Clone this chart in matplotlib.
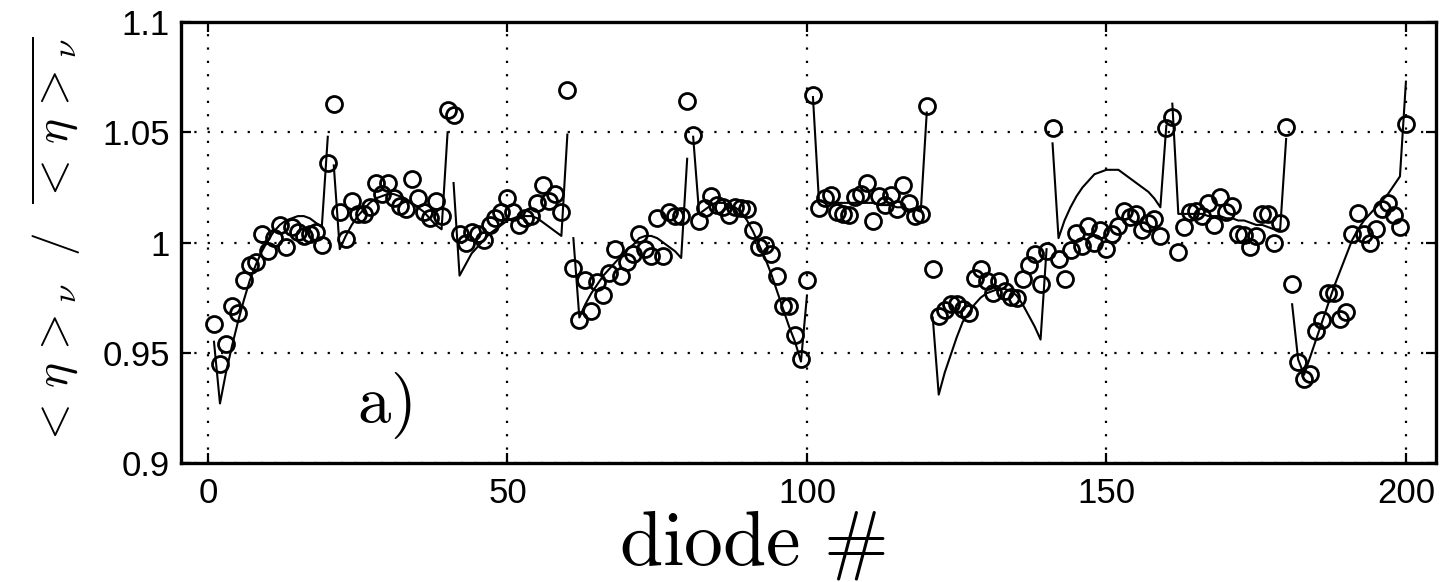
import numpy as np
import matplotlib
matplotlib.use("Agg")
import matplotlib.pyplot as plt

plt.rcParams['mathtext.fontset'] = 'cm'
plt.rcParams['font.family'] = ['Liberation Sans', 'DejaVu Sans']

# diode index
diode = np.arange(1, 201)

# measured ratio <eta>_nu / mean(<eta>_nu)  (circles), 10 groups of 20 diodes
measured = [
    0.963, 0.945, 0.954, 0.971, 0.968, 0.983, 0.990, 0.991, 1.004, 0.996,
    1.002, 1.008, 0.998, 1.007, 1.005, 1.003, 1.004, 1.005, 0.999, 1.036,
    1.063, 1.014, 1.0015, 1.019, 1.013, 1.013, 1.016, 1.027, 1.022, 1.027,
    1.020, 1.0165, 1.015, 1.029, 1.020, 1.014, 1.011, 1.019, 1.012, 1.060,
    1.058, 1.004, 1.000, 1.005, 1.004, 1.001, 1.008, 1.011, 1.014, 1.020,
    1.014, 1.008, 1.011, 1.012, 1.018, 1.026, 1.019, 1.022, 1.014, 1.069,
    0.9885, 0.965, 0.983, 0.969, 0.982, 0.976, 0.986, 0.997, 0.985, 0.991,
    0.995, 1.004, 0.997, 0.994, 1.011, 0.994, 1.014, 1.012, 1.012, 1.064,
    1.049, 1.010, 1.0155, 1.021, 1.017, 1.016, 1.0125, 1.016, 1.0155, 1.015,
    1.0057, 0.998, 0.999, 0.995, 0.985, 0.971, 0.971, 0.958, 0.947, 0.983,
    1.067, 1.0155, 1.020, 1.0215, 1.014, 1.013, 1.0125, 1.0205, 1.022, 1.027,
    1.010, 1.021, 1.017, 1.0215, 1.015, 1.026, 1.018, 1.012, 1.013, 1.062,
    0.988, 0.9665, 0.9695, 0.972, 0.972, 0.970, 0.968, 0.984, 0.988, 0.9825,
    0.977, 0.9825, 0.978, 0.9755, 0.975, 0.9835, 0.990, 0.995, 0.981, 0.996,
    1.052, 0.9925, 0.9835, 0.9965, 1.0045, 0.9985, 1.0075, 1.000, 1.0055, 0.997,
    1.004, 1.0075, 1.0145, 1.0115, 1.013, 1.0055, 1.009, 1.0105, 1.003, 1.052,
    1.057, 0.9955, 1.007, 1.014, 1.0145, 1.012, 1.018, 1.008, 1.0205, 1.014,
    1.0165, 1.004, 1.0036, 0.998, 1.003, 1.013, 1.013, 1.000, 1.009, 1.0525,
    0.981, 0.946, 0.938, 0.9405, 0.960, 0.965, 0.977, 0.977, 0.9655, 0.9685,
    1.004, 1.0135, 1.004, 1.000, 1.006, 1.015, 1.018, 1.0125, 1.007, 1.054,
]

# model curve (solid line), drawn separately for each group of 20 diodes
model = [
    0.955, 0.927, 0.941, 0.953, 0.964, 0.974, 0.983, 0.990, 0.996, 1.001,
    1.005, 1.008, 1.010, 1.011, 1.012, 1.012, 1.011, 1.009, 1.007, 1.048,
    1.035, 0.997, 1.003, 1.008, 1.012, 1.015, 1.018, 1.020, 1.021, 1.022,
    1.022, 1.021, 1.020, 1.018, 1.016, 1.014, 1.011, 1.008, 1.006, 1.050,
    1.027, 0.985, 0.990, 0.995, 0.998, 1.001, 1.004, 1.006, 1.008, 1.010,
    1.011, 1.012, 1.012, 1.012, 1.011, 1.009, 1.007, 1.005, 1.003, 1.049,
    1.002, 0.966, 0.972, 0.977, 0.981, 0.985, 0.988, 0.991, 0.994, 0.997,
    0.999, 1.002, 1.003, 1.003, 1.002, 1.000, 0.998, 0.996, 0.993, 1.038,
    1.048, 1.013, 1.015, 1.017, 1.018, 1.018, 1.017, 1.016, 1.014, 1.010,
    1.005, 0.999, 0.993, 0.986, 0.978, 0.970, 0.962, 0.955, 0.946, 0.976,
    1.066, 1.019, 1.018, 1.018, 1.018, 1.018, 1.018, 1.018, 1.018, 1.018,
    1.018, 1.017, 1.017, 1.017, 1.016, 1.016, 1.015, 1.015, 1.014, 1.059,
    0.966, 0.931, 0.941, 0.949, 0.957, 0.964, 0.968, 0.972, 0.975, 0.977,
    0.978, 0.979, 0.979, 0.978, 0.976, 0.972, 0.967, 0.962, 0.956, 0.997,
    1.045, 1.002, 1.010, 1.016, 1.021, 1.025, 1.028, 1.031, 1.032, 1.033,
    1.033, 1.033, 1.031, 1.029, 1.027, 1.025, 1.023, 1.020, 1.016, 1.053,
    1.063, 1.013, 1.013, 1.013, 1.013, 1.013, 1.012, 1.012, 1.012, 1.011,
    1.011, 1.010, 1.010, 1.009, 1.008, 1.008, 1.007, 1.006, 1.006, 1.047,
    0.972, 0.947, 0.940, 0.948, 0.956, 0.964, 0.972, 0.980, 0.987, 0.994,
    1.001, 1.006, 1.010, 1.013, 1.016, 1.019, 1.022, 1.026, 1.030, 1.073,
]

group_size = 20
xticks = [0, 50, 100, 150, 200]
yticks = [0.9, 0.95, 1.0, 1.05, 1.1]
yticklabels = ['0.9', '0.95', '1', '1.05', '1.1']

fig = plt.figure(figsize=(14.46, 5.82), dpi=100)
ax = fig.add_axes([0.1252, 0.2045, 0.993 - 0.1252, 0.962 - 0.2045])

measured = np.array(measured)
model = np.array(model)

for g in range(0, len(diode), group_size):
    ax.plot(diode[g:g + group_size], model[g:g + group_size], color='black', lw=1.5, zorder=2)

ax.plot(diode, measured, linestyle='none', marker='o', markersize=11.5,
        markerfacecolor='none', markeredgecolor='black', markeredgewidth=2.0, zorder=3)

ax.set_xlim(-4.5, 205)
ax.set_ylim(0.9, 1.1)
ax.set_xticks(xticks)
ax.set_xticklabels([str(t) for t in xticks])
ax.set_yticks(yticks)
ax.set_yticklabels(yticklabels)

ax.grid(True, color='black', linestyle=(0, (1, 5)), linewidth=1.6)
ax.set_axisbelow(True)

for s in ax.spines.values():
    s.set_linewidth(2.4)
ax.tick_params(axis='both', direction='in', length=7, width=1.6,
               top=True, right=True, labelsize=25)
ax.tick_params(axis='x', pad=10, labelsize=25)
ax.tick_params(axis='y', pad=8)

ax.set_xlabel(r'$\mathrm{diode}\ \#$', fontsize=56, va='baseline')
ax.xaxis.set_label_coords(752 / 1446, 1 - 565 / 582, transform=fig.transFigure)
ax.set_ylabel(r'$<\,\eta\,>_{\nu}\ \ /\ \ \overline{<\,\eta\,>_{\nu}}$', fontsize=34, labelpad=14)

ax.text(29.5, 0.926, r'$\mathrm{a)}$', fontsize=48, ha='center', va='center')

fig.savefig('out.png', dpi=100)
